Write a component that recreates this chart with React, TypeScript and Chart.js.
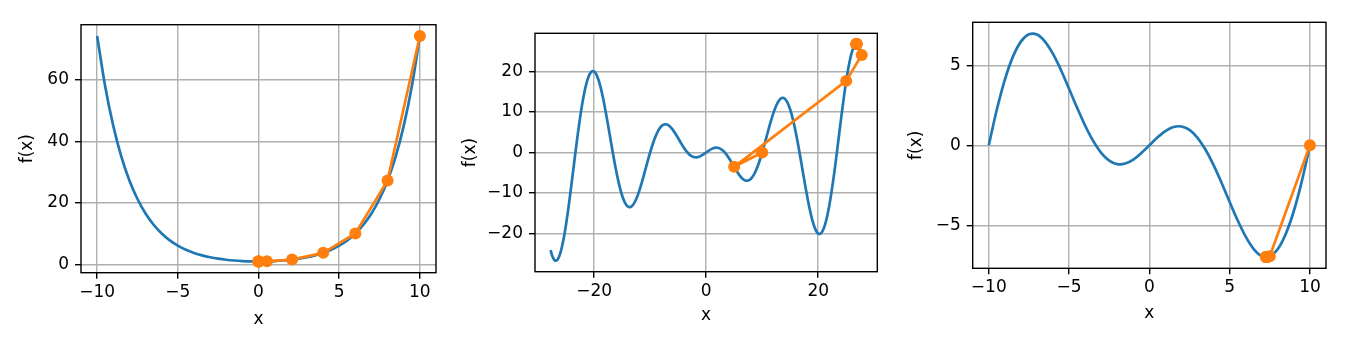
import React, { useEffect, useRef } from 'react';
import { Chart, registerables } from 'chart.js';

Chart.register(...registerables);

const BLUE = '#1f77b4';
const ORANGE = '#ff7f0e';

// ---------- Panel 1: f(x) = cosh(x/2), Newton's method ----------
const curve1X = [-10, -9.5, -9, -8.5, -8, -7.5, -7, -6.5, -6, -5.5, -5, -4.5, -4, -3.5, -3, -2.5, -2, -1.5, -1, -0.5, 0,
  0.5, 1, 1.5, 2, 2.5, 3, 3.5, 4, 4.5, 5, 5.5, 6, 6.5, 7, 7.5, 8, 8.5, 9, 9.5, 10];
const curve1Y = [74.2099, 57.7965, 45.0141, 35.0598, 27.3082, 21.2723, 16.5728, 12.9146, 10.0677, 7.8533, 6.1323, 4.7966, 3.7622, 2.9642, 2.3524, 1.8884, 1.5431, 1.2947, 1.1276, 1.0314, 1,
  1.0314, 1.1276, 1.2947, 1.5431, 1.8884, 2.3524, 2.9642, 3.7622, 4.7966, 6.1323, 7.8533, 10.0677, 12.9146, 16.5728, 21.2723, 27.3082, 35.0598, 45.0141, 57.7965, 74.2099];
const trace1X = [10, 8.0002, 6.0015, 4.0114, 2.0825, 0.5258, 0.0118, 0, 0, 0, 0];
const trace1Y = [74.2099, 27.311, 10.0753, 3.7829, 1.5929, 1.0348, 1.0, 1, 1, 1, 1];
const xTicks1 = [-10, -5, 0, 5, 10];
const yTicks1 = [0, 20, 40, 60];

// ---------- Panel 2: f(x) = x cos(0.15 pi x), Newton's method (eta = 1) ----------
const curve2X = [-27.77, -27.5, -27, -26.5, -26, -25.5, -25, -24.5, -24, -23.5, -23, -22.5, -22, -21.5, -21, -20.5, -20,
  -19.5, -19, -18.5, -18, -17.5, -17, -16.5, -16, -15.5, -15, -14.5, -14, -13.5, -13, -12.5, -12, -11.5, -11, -10.5, -10,
  -9.5, -9, -8.5, -8, -7.5, -7, -6.5, -6, -5.5, -5, -4.5, -4, -3.5, -3, -2.5, -2, -1.5, -1, -0.5, 0,
  0.5, 1, 1.5, 2, 2.5, 3, 3.5, 4, 4.5, 5, 5.5, 6, 6.5, 7, 7.5, 8, 8.5, 9, 9.5, 10,
  10.5, 11, 11.5, 12, 12.5, 13, 13.5, 14, 14.5, 15, 15.5, 16, 16.5, 17, 17.5, 18, 18.5, 19, 19.5, 20,
  20.5, 21, 21.5, 22, 22.5, 23, 23.5, 24, 24.5, 25, 25.5, 26, 26.5, 27, 27.5, 27.77];
const curve2Y = [-24.1, -25.4067, -26.6676, -26.4183, -24.7275, -21.7423, -17.6777, -12.8012, -7.4164, -1.8438, 3.598, 8.6104, 12.9313, 16.3487, 18.7111, 19.9336, 20,
  18.9612, 16.9291, 14.0675, 10.5801, 6.697, 2.6594, -1.2946, -4.9443, -8.0987, -10.6066, -12.3633, -13.3148, -13.4584, -12.8399, -11.5485, -9.7082, -7.4687, -4.9939, -2.4512, 0,
  2.2177, 4.0859, 5.5203, 6.4721, 6.9291, 6.9138, 6.48, 5.7063, 4.6895, 3.5355, 2.3512, 1.2361, 0.2746, -0.4693, -0.9567, -1.1756, -1.1406, -0.891, -0.4862, 0,
  0.4862, 0.891, 1.1406, 1.1756, 0.9567, 0.4693, -0.2746, -1.2361, -2.3512, -3.5355, -4.6895, -5.7063, -6.48, -6.9138, -6.9291, -6.4721, -5.5203, -4.0859, -2.2177, 0,
  2.4512, 4.9939, 7.4687, 9.7082, 11.5485, 12.8399, 13.4584, 13.3148, 12.3633, 10.6066, 8.0987, 4.9443, 1.2946, -2.6594, -6.697, -10.5801, -14.0675, -16.9291, -18.9612, -20,
  -19.9336, -18.7111, -16.3487, -12.9313, -8.6104, -3.598, 1.8438, 7.4164, 12.8012, 17.6777, 21.7423, 24.7275, 26.4183, 26.6676, 25.4067, 24.1];
const trace2X = [10, 5, 25, 27.774, 26.8015, 26.8343, 26.8342, 26.8342, 26.8342, 26.8342, 26.8342];
const trace2Y = [0, -3.5355, 17.6777, 24.078, 26.7475, 26.7507, 26.7507, 26.7507, 26.7507, 26.7507, 26.7507];
const xTicks2 = [-20, 0, 20];
const yTicks2 = [-20, -10, 0, 10, 20];

// ---------- Panel 3: f(x) = x cos(0.15 pi x), Newton's method (eta = 0.5) ----------
const curve3X = [-10, -9.5, -9, -8.5, -8, -7.5, -7, -6.5, -6, -5.5, -5, -4.5, -4, -3.5, -3, -2.5, -2, -1.5, -1, -0.5, 0,
  0.5, 1, 1.5, 2, 2.5, 3, 3.5, 4, 4.5, 5, 5.5, 6, 6.5, 7, 7.5, 8, 8.5, 9, 9.5, 10];
const curve3Y = [0, 2.2177, 4.0859, 5.5203, 6.4721, 6.9291, 6.9138, 6.48, 5.7063, 4.6895, 3.5355, 2.3512, 1.2361, 0.2746, -0.4693, -0.9567, -1.1756, -1.1406, -0.891, -0.4862, 0,
  0.4862, 0.891, 1.1406, 1.1756, 0.9567, 0.4693, -0.2746, -1.2361, -2.3512, -3.5355, -4.6895, -5.7063, -6.48, -6.9138, -6.9291, -6.4721, -5.5203, -4.0859, -2.2177, 0];
const trace3X = [10, 7.5, 7.3872, 7.328, 7.2987, 7.284, 7.2766, 7.273, 7.2711, 7.2702, 7.2698];
const trace3Y = [0, -6.9291, -6.9654, -6.975, -6.977, -6.978, -6.978, -6.978, -6.978, -6.978, -6.978];
const xTicks3 = [-10, -5, 0, 5, 10];
const yTicks3 = [-5, 0, 5];

const xTitle = 'x';
const yTitle = 'f(x)';

type Panel = {
  left: number; width: number; padTop: number; padRight: number;
  yAxisWidth: number; xAxisHeight: number; yTitlePad: number; xTitlePad: number;
  xMin: number; xMax: number; yMin: number; yMax: number;
  curveX: number[]; curveY: number[]; traceX: number[]; traceY: number[];
  xTicks: number[]; yTicks: number[];
};

const panels: Panel[] = [
  { left: 0, width: 445, padTop: 24.7, padRight: 9, yAxisWidth: 81, xAxisHeight: 64.3, yTitlePad: 17.3, xTitlePad: 7.5,
    xMin: -11, xMax: 11, yMin: -2.66, yMax: 77.87,
    curveX: curve1X, curveY: curve1Y, traceX: trace1X, traceY: trace1Y, xTicks: xTicks1, yTicks: yTicks1 },
  { left: 450, width: 440, padTop: 33.3, padRight: 12.7, yAxisWidth: 85, xAxisHeight: 65.3, yTitlePad: 10.3, xTitlePad: 10.8,
    xMin: -30.55, xMax: 30.55, yMin: -29.42, yMax: 29.42,
    curveX: curve2X, curveY: curve2Y, traceX: trace2X, traceY: trace2Y, xTicks: xTicks2, yTicks: yTicks2 },
  { left: 895, width: 450, padTop: 22.3, padRight: 19, yAxisWidth: 77.7, xAxisHeight: 68.7, yTitlePad: 11.5, xTitlePad: 12.8,
    xMin: -11, xMax: 11, yMin: -7.68, yMax: 7.68,
    curveX: curve3X, curveY: curve3Y, traceX: trace3X, traceY: trace3Y, xTicks: xTicks3, yTicks: yTicks3 },
];

const fmt = (v: number) => (v < 0 ? '\u2212' + Math.abs(v) : String(v));

const framePlugin = {
  id: 'frame',
  afterDraw(chart: any) {
    const { ctx, chartArea: a } = chart;
    ctx.save();
    ctx.strokeStyle = '#000';
    ctx.lineWidth = 1.4;
    ctx.strokeRect(a.left, a.top, a.right - a.left, a.bottom - a.top);
    ctx.restore();
  },
};

function PanelChart({ p }: { p: Panel }) {
  const ref = useRef<HTMLCanvasElement | null>(null);
  useEffect(() => {
    if (!ref.current) return;
    const font = { family: 'DejaVu Sans', size: 17 };
    const grid = {
      color: '#b0b0b0', lineWidth: 1.4, tickColor: '#000', tickLength: 6, tickWidth: 1.4, drawTicks: true,
    };
    const chart = new Chart(ref.current, {
      type: 'line',
      data: {
        datasets: [
          {
            data: p.traceX.map((x, i) => ({ x, y: p.traceY[i] })),
            borderColor: ORANGE, backgroundColor: ORANGE, borderWidth: 2.7,
            pointRadius: 6, pointBackgroundColor: ORANGE, pointBorderWidth: 0, pointHoverRadius: 0,
            tension: 0, fill: false,
          },
          {
            data: p.curveX.map((x, i) => ({ x, y: p.curveY[i] })),
            borderColor: BLUE, backgroundColor: BLUE, borderWidth: 2.7,
            pointRadius: 0, pointHoverRadius: 0, tension: 0.33, fill: false,
          },
        ],
      },
      options: {
        responsive: false,
        animation: false,
        events: [],
        layout: { padding: { top: p.padTop, right: p.padRight, left: 0, bottom: 0 } },
        plugins: { legend: { display: false }, tooltip: { enabled: false } },
        scales: {
          x: {
            type: 'linear', min: p.xMin, max: p.xMax,
            afterBuildTicks: (s: any) => { s.ticks = p.xTicks.map((v) => ({ value: v })); },
            afterFit: (s: any) => { s.height = p.xAxisHeight; },
            grid, border: { display: false },
            ticks: { font, color: '#000', padding: 3.5, callback: (v: any) => fmt(Number(v)), maxRotation: 0, autoSkip: false },
            title: { display: true, text: xTitle, font, color: '#000', padding: { top: 0, bottom: p.xTitlePad } },
          },
          y: {
            type: 'linear', min: p.yMin, max: p.yMax,
            afterBuildTicks: (s: any) => { s.ticks = p.yTicks.map((v) => ({ value: v })); },
            afterFit: (s: any) => { s.width = p.yAxisWidth; },
            grid, border: { display: false },
            ticks: { font, color: '#000', padding: 6, callback: (v: any) => fmt(Number(v)), autoSkip: false },
            title: { display: true, text: yTitle, font, color: '#000', padding: { top: p.yTitlePad, bottom: 0 } },
          },
        },
      } as any,
      plugins: [framePlugin],
    });
    return () => chart.destroy();
  }, [p]);
  return (
    <canvas
      ref={ref}
      width={p.width}
      height={337}
      style={{ position: 'absolute', left: p.left, top: 0, width: p.width, height: 337 }}
    />
  );
}

export default function App() {
  return (
    <div style={{ position: 'absolute', left: 0, top: 0, width: 1345, height: 337, background: '#fff' }}>
      {panels.map((p, i) => (
        <PanelChart key={i} p={p} />
      ))}
    </div>
  );
}
